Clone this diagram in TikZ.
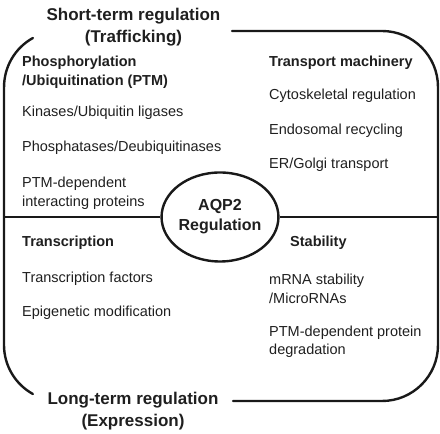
\documentclass[tikz,border=0pt]{standalone}
\usepackage{fontspec}
\setmainfont{Liberation Sans}
\usetikzlibrary{shapes.geometric}
\begin{document}
\begin{tikzpicture}[x=1pt,y=1pt,
  frame/.style={line width=2.4pt, draw=black!90, line cap=round},
  divider/.style={line width=2pt, draw=black!90},
  body/.style={anchor=base west, inner sep=0pt, text=black!88, font=\fontsize{14.5}{17}\selectfont},
  head/.style={body, font=\fontsize{14.5}{17}\selectfont\bfseries},
  title/.style={anchor=base, inner sep=0pt, text=black!88, font=\fontsize{17}{20}\selectfont\bfseries}]
\useasboundingbox (0,0) rectangle (440,434);
% frame
\draw[frame] (32.9,396) arc[start angle=119, end angle=180, radius=56] -- (4,89)
  arc[start angle=180, end angle=241, radius=56];
\draw[frame] (233,33) -- (382,33) arc[start angle=270, end angle=360, radius=56]
  -- (438,347) arc[start angle=0, end angle=90, radius=56] -- (232,403);
% centre
\node[ellipse, draw=black!90, line width=2.4pt, minimum width=116pt, minimum height=89pt, inner sep=0pt,
  align=center, text=black!88, font=\fontsize{16}{20}\selectfont\bfseries] (aqp) at (220,217) {AQP2\\Regulation};
\coordinate (hl) at (3,217);
\coordinate (hr) at (438,217);
\draw[divider] (hl) -- (aqp);
\draw[divider] (aqp) -- (hr);
% titles
\node[title] (st1) at (133.5,413) {Short-term regulation};
\node[title] (st2) at (133.5,391) {(Trafficking)};
\node[title] (lt1) at (133,29) {Long-term regulation};
\node[title] (lt2) at (133,7) {(Expression)};
% top left
\node[head] (ph1) at (22,367) {Phosphorylation};
\node[head] (ph2) at (22,348) {/Ubiquitination (PTM)};
\node[body] (kin) at (22,317) {Kinases/Ubiquitin ligases};
\node[body] (pho) at (22,282) {Phosphatases/Deubiquitinases};
\node[body] (ptm1) at (22,246) {PTM-dependent};
\node[body] (ptm2) at (22,227.5) {interacting proteins};
% top right
\node[head] (tm) at (269,367) {Transport machinery};
\node[body] (cyt) at (269,334) {Cytoskeletal regulation};
\node[body] (endo) at (269,299) {Endosomal recycling};
\node[body] (er) at (269,265) {ER/Golgi transport};
% bottom left
\node[head] (tr) at (22,187) {Transcription};
\node[body] (tf) at (22,151) {Transcription factors};
\node[body] (epi) at (22,117) {Epigenetic modification};
% bottom right
\node[head] (stab) at (290,187) {Stability};
\node[body] (mr1) at (269,149) {mRNA stability};
\node[body] (mr2) at (269,130.5) {/MicroRNAs};
\node[body] (pd1) at (269,97) {PTM-dependent protein};
\node[body] (pd2) at (269,79) {degradation};
\end{tikzpicture}
\end{document}
